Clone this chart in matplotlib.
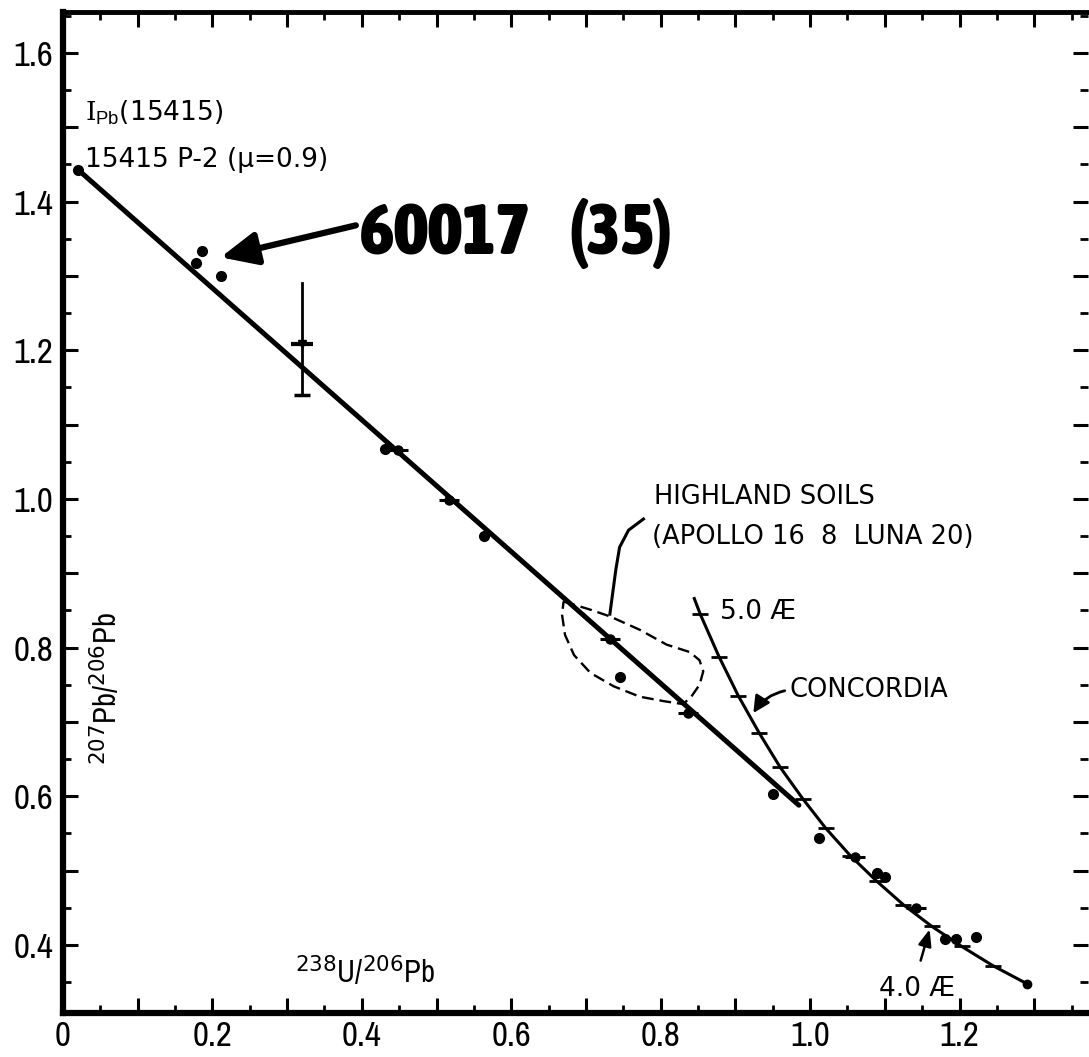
import matplotlib
matplotlib.use('Agg')
import matplotlib.pyplot as plt
from matplotlib import font_manager
from matplotlib.font_manager import FontProperties
from matplotlib.ticker import FixedLocator
import numpy as np


def is_bold(w):
    if isinstance(w, str):
        return 'bold' in w.lower() or 'black' in w.lower() or 'heavy' in w.lower()
    return w >= 600


def narrow_font(bold):
    # look for a narrow / condensed sans, the scan uses one for the axis numbers
    for f in font_manager.fontManager.ttflist:
        n = f.name.lower()
        if ('narrow' in n or 'condensed' in n) and 'dejavu' not in n and 'serif' not in n \
                and 'mono' not in n and f.style == 'normal' and is_bold(f.weight) == bold:
            return f.fname
    return None


nar_file = narrow_font(False)
nar_bold_file = narrow_font(True)
have_narrow = nar_file is not None

if have_narrow:
    fp_num = FontProperties(fname=nar_file, size=25)
    fp_lab = FontProperties(fname=nar_file, size=22)
else:
    fp_num = FontProperties(family='Liberation Sans', size=23)
    fp_lab = FontProperties(family='Liberation Sans', size=21)
if nar_bold_file is not None:
    fp_big = FontProperties(fname=nar_bold_file, size=52)
else:
    fp_big = FontProperties(family='Liberation Sans', weight='bold', size=44)

plt.rcParams['font.family'] = ['DejaVu Sans']
plt.rcParams['mathtext.fontset'] = 'custom'
plt.rcParams['mathtext.rm'] = 'DejaVu Serif'
plt.rcParams['mathtext.sf'] = 'Liberation Sans'
plt.rcParams['mathtext.it'] = 'DejaVu Serif:italic'
plt.rcParams['mathtext.bf'] = 'DejaVu Serif:bold'

# --- data ---
# straight line through the soil data
main_x = [0.02, 0.985]
main_y = [1.443, 0.588]

# concordia, top end then 0.1 AE steps from 5.0 down to 3.7
conc_x = [0.845, 0.853, 0.878, 0.904, 0.932, 0.960, 0.990, 1.021, 1.054, 1.089, 1.125, 1.163, 1.203, 1.245, 1.290]
conc_y = [0.866, 0.845, 0.788, 0.735, 0.685, 0.639, 0.597, 0.557, 0.520, 0.486, 0.454, 0.425, 0.398, 0.372, 0.348]

# highland soils envelope (closed, dashed)
soil_x = [0.670, 0.706, 0.732, 0.772, 0.808, 0.839, 0.852, 0.857, 0.852, 0.841, 0.830,
          0.804, 0.772, 0.737, 0.706, 0.684, 0.672, 0.668, 0.670]
soil_y = [0.862, 0.851, 0.842, 0.824, 0.804, 0.794, 0.783, 0.768, 0.750, 0.734, 0.724,
          0.728, 0.734, 0.748, 0.766, 0.790, 0.817, 0.844, 0.862]

# leader from the highland soils label to the envelope
lead_x = [0.777, 0.757, 0.745, 0.740, 0.736, 0.732]
lead_y = [0.973, 0.958, 0.935, 0.905, 0.875, 0.845]

# single soil analyses (dots)
pts_x = [0.186, 0.178, 0.212, 0.431, 0.564, 0.745, 0.951, 1.012, 1.090, 1.100, 1.180, 1.195, 1.222]
pts_y = [1.333, 1.318, 1.300, 1.067, 0.950, 0.761, 0.603, 0.544, 0.497, 0.492, 0.408, 0.408, 0.411]

# analyses sitting on the line (blob with a bar)
bar_x = [0.448, 0.517, 0.732, 0.837, 1.060, 1.142]
bar_y = [1.066, 0.999, 0.812, 0.712, 0.519, 0.450]

# 60017 point with error bar
eb_x, eb_y, eb_lo, eb_hi = 0.32, 1.208, 1.140, 1.290

# tick labels
xticks = [0.0, 0.1, 0.2, 0.3, 0.4, 0.5, 0.6, 0.7, 0.8, 0.9, 1.0, 1.1, 1.2, 1.3]
xlabels = ['0', '', '0.2', '', '0.4', '', '0.6', '', '0.8', '', '1.0', '', '1.2', '']
yticks = [0.4, 0.5, 0.6, 0.7, 0.8, 0.9, 1.0, 1.1, 1.2, 1.3, 1.4, 1.5, 1.6]
ylabels = ['0.4', '', '0.6', '', '0.8', '', '1.0', '', '1.2', '', '1.4', '', '1.6']

fig = plt.figure(figsize=(10.89, 10.57), dpi=100)
ax = fig.add_axes([63 / 1089, 44 / 1057, 1025 / 1089, 1001 / 1057])

ax.set_xlim(0, 1.372)
ax.set_ylim(0.3085, 1.655)

# lines
ax.plot(main_x, main_y, color='k', lw=3.6, solid_capstyle='round', zorder=3)
ax.plot(main_x[0], main_y[0], 'o', color='k', ms=7, zorder=4)
ax.plot(conc_x, conc_y, color='k', lw=2.2, zorder=3)
ax.plot(conc_x[1:-1], conc_y[1:-1], linestyle='none', marker='_', ms=11, mew=2, color='k', zorder=4)
ax.plot(conc_x[-1], conc_y[-1], 'o', color='k', ms=6, zorder=4)
ax.plot(soil_x, soil_y, color='k', lw=1.7, linestyle=(0, (5, 2.5)), zorder=3)
ax.plot(lead_x, lead_y, color='k', lw=2.2, zorder=3)

# points
ax.plot(pts_x, pts_y, 'o', color='k', ms=7, zorder=5)
ax.plot(bar_x, bar_y, 'o', color='k', ms=6.5, zorder=5)
ax.plot(bar_x, bar_y, linestyle='none', marker='_', ms=14, mew=2.2, color='k', zorder=5)

# error bar
ax.plot([eb_x, eb_x], [eb_lo, eb_hi], color='k', lw=2, zorder=4)
ax.plot(eb_x, eb_lo, marker='_', ms=12, mew=2.5, color='k', zorder=4)
ax.plot(eb_x, eb_y, marker='_', ms=16, mew=3, color='k', zorder=4)
ax.plot(eb_x, eb_y, marker='v', ms=6, color='k', zorder=4)

# labels
ax.text(0.03, 1.509, r'$\mathrm{I}_{\mathsf{Pb}}$(15415)', fontsize=19)
ax.text(0.03, 1.446, '15415 P-2 (\u03bc=0.9)', fontsize=19)
ax.text(0.398, 1.33, '60017    (35)', fontproperties=fp_big)
ax.annotate('', xy=(0.211, 1.325), xytext=(0.392, 1.368),
            arrowprops=dict(arrowstyle='-|>,head_length=1.1,head_width=0.5', lw=4.5, color='k',
                            mutation_scale=20, shrinkA=0, shrinkB=0))

ax.text(0.791, 0.993, 'HIGHLAND SOILS', fontsize=18.5)
ax.text(0.788, 0.940, '(APOLLO 16  8  LUNA 20)', fontsize=18.5)
ax.text(0.879, 0.838, '5.0 \u00c6', fontsize=19)
ax.text(0.972, 0.734, 'CONCORDIA', fontsize=18.5)
ax.annotate('', xy=(0.924, 0.712), xytext=(0.966, 0.742),
            arrowprops=dict(arrowstyle='-|>,head_length=0.5,head_width=0.25', lw=2, color='k',
                            mutation_scale=20, shrinkA=0, shrinkB=0, connectionstyle='arc3,rad=0.2'))
ax.text(1.092, 0.332, '4.0 \u00c6', fontsize=19)
ax.annotate('', xy=(1.160, 0.421), xytext=(1.148, 0.379),
            arrowprops=dict(arrowstyle='-|>,head_length=0.5,head_width=0.2', lw=1.8, color='k',
                            mutation_scale=20, shrinkA=0, shrinkB=0))

ax.text(0.311, 0.348, r'$^{\mathsf{238}}$U/$^{\mathsf{206}}$Pb', fontproperties=fp_lab)
ax.text(0.056, 0.745, r'$^{\mathsf{207}}$Pb/$^{\mathsf{206}}$Pb', rotation=90, ha='center', va='center',
        fontproperties=fp_lab)

# axes styling
ax.set_xticks(xticks)
ax.set_xticklabels(xlabels, fontproperties=fp_num)
ax.set_yticks(yticks)
ax.set_yticklabels(ylabels, fontproperties=fp_num)
ax.xaxis.set_minor_locator(FixedLocator(np.round(np.arange(0.05, 1.37, 0.1), 2)))
ax.yaxis.set_minor_locator(FixedLocator(np.round(np.arange(0.35, 1.66, 0.1), 2)))
ax.tick_params(which='both', direction='in', top=True, right=True, color='k')
ax.tick_params(which='major', length=11, width=2.2)
ax.tick_params(which='minor', length=6, width=2)
ax.tick_params(axis='x', pad=5)
ax.tick_params(axis='y', pad=7)

for side, lw in [('left', 4.5), ('bottom', 4.5), ('top', 3.5)]:
    ax.spines[side].set_linewidth(lw)
ax.spines['right'].set_visible(False)

fig.savefig('out.png', dpi=100)
